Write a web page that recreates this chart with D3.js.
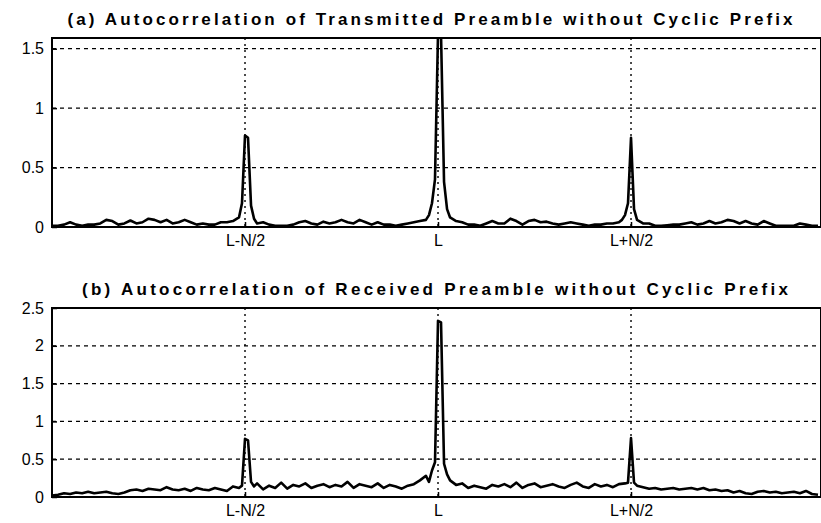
<!DOCTYPE html>
<html lang="en">
<head>
    <meta charset="UTF-8">
    <title>Autocorrelation of Preamble without Cyclic Prefix</title>
    <script src="https://d3js.org/d3.v7.min.js"></script>
    <style>
        body { margin: 0; background: #fff; }
        svg { display: block; }
        text { font-family: "Liberation Sans", Arial, sans-serif; fill: #000; }
        .title { font-weight: bold; font-size: 17px; }
        .tick text { font-size: 16px; }
    </style>
</head>
<body>
    <svg id="chart" width="821" height="523"></svg>

    <script>
        // x ticks: lag positions and their labels
        const tickLags = [64, 128, 192];
        const tickLabels = ["L-N/2", "L", "L+N/2"];
        const lagMax = 255;

        // (a) transmitted: sidelobe values every 2 lags (lag = 2*i)
        const noiseA = [
            0.01, 0.01, 0.02, 0.04, 0.02, 0.01, 0.02, 0.02, 0.03, 0.06, 0.05, 0.02, 0.03, 0.055, 0.03, 0.04,
            0.07, 0.06, 0.04, 0.06, 0.03, 0.04, 0.06, 0.04, 0.02, 0.03, 0.02, 0.02, 0.04, 0.04, 0.05, 0.08,
            0.2, 0.07, 0.03, 0.04, 0.02, 0.01, 0.01, 0.01, 0.02, 0.04, 0.05, 0.03, 0.02, 0.045, 0.03, 0.04,
            0.06, 0.04, 0.03, 0.06, 0.04, 0.02, 0.04, 0.02, 0.02, 0.01, 0.02, 0.03, 0.04, 0.05, 0.06, 0.2,
            0.4, 0.15, 0.05, 0.05, 0.04, 0.02, 0.02, 0.01, 0.03, 0.05, 0.03, 0.03, 0.07, 0.05, 0.02, 0.05,
            0.06, 0.04, 0.045, 0.03, 0.02, 0.03, 0.04, 0.03, 0.02, 0.01, 0.02, 0.02, 0.03, 0.03, 0.04, 0.1,
            0.2, 0.06, 0.03, 0.03, 0.01, 0.01, 0.015, 0.02, 0.02, 0.03, 0.04, 0.02, 0.03, 0.05, 0.03, 0.04,
            0.06, 0.05, 0.03, 0.05, 0.03, 0.02, 0.05, 0.03, 0.01, 0.01, 0.01, 0.01, 0.03, 0.02, 0.01, 0.01
        ];
        // (a) peaks: lags and values
        const peakLagsA = [62, 63, 64, 65, 66, 67, 125, 126, 127, 128, 129, 130, 131, 132, 189, 190, 191, 192, 193, 194];
        const peakValsA = [0.08, 0.2, 0.77, 0.75, 0.18, 0.07, 0.1, 0.2, 0.4, 1.62, 1.62, 0.38, 0.15, 0.08, 0.06, 0.1, 0.2, 0.75, 0.15, 0.06];

        // (b) received: values every 2 lags (lag = 2*i)
        const noiseB = [
            0.02, 0.03, 0.05, 0.04, 0.06, 0.05, 0.07, 0.05, 0.06, 0.07, 0.05, 0.04, 0.06, 0.09, 0.1, 0.08,
            0.11, 0.1, 0.09, 0.13, 0.1, 0.09, 0.11, 0.08, 0.12, 0.1, 0.09, 0.12, 0.1, 0.08, 0.14, 0.12,
            0.15, 0.14, 0.18, 0.1, 0.15, 0.12, 0.19, 0.11, 0.16, 0.14, 0.18, 0.12, 0.15, 0.17, 0.13, 0.16,
            0.14, 0.2, 0.12, 0.17, 0.15, 0.13, 0.18, 0.12, 0.16, 0.14, 0.11, 0.15, 0.17, 0.22, 0.28, 0.35,
            2.33, 0.3, 0.2, 0.16, 0.18, 0.12, 0.15, 0.13, 0.11, 0.16, 0.14, 0.17, 0.13, 0.19, 0.12, 0.16,
            0.18, 0.13, 0.15, 0.17, 0.14, 0.12, 0.16, 0.19, 0.14, 0.12, 0.17, 0.14, 0.16, 0.13, 0.17, 0.18,
            0.78, 0.15, 0.13, 0.11, 0.12, 0.1, 0.11, 0.12, 0.1, 0.11, 0.12, 0.1, 0.12, 0.09, 0.1, 0.08,
            0.09, 0.06, 0.08, 0.05, 0.04, 0.07, 0.08, 0.06, 0.07, 0.05, 0.06, 0.07, 0.05, 0.08, 0.04, 0.03
        ];
        const peakLagsB = [63, 64, 65, 66, 67, 125, 126, 127, 128, 129, 130, 131, 132, 191, 192, 193];
        const peakValsB = [0.15, 0.77, 0.75, 0.2, 0.14, 0.2, 0.35, 0.46, 2.33, 2.31, 0.44, 0.3, 0.22, 0.19, 0.78, 0.19];

        const panels = [
            { id: "a", title: "(a) Autocorrelation of Transmitted Preamble without Cyclic Prefix",
              titleX: 430, titleY: 25, titleLen: 725,
              top: 38, bottom: 227, ymax: 1.59, yTicks: [0, 0.5, 1, 1.5],
              noise: noiseA, peakLags: peakLagsA, peakVals: peakValsA },
            { id: "b", title: "(b) Autocorrelation of Received Preamble without Cyclic Prefix",
              titleX: 435, titleY: 295, titleLen: 706,
              top: 308, bottom: 497, ymax: 2.5, yTicks: [0, 0.5, 1, 1.5, 2, 2.5],
              noise: noiseB, peakLags: peakLagsB, peakVals: peakValsB }
        ];

        const svg = d3.select("#chart");
        const left = 52, right = 821;

        const x = d3.scaleLinear().domain([0, lagMax]).range([left, right]);

        panels.forEach(p => {
            const y = d3.scaleLinear().domain([0, p.ymax]).range([p.bottom, p.top]);

            // merge sidelobe samples with the peak samples
            const byLag = new Map();
            p.noise.forEach((v, i) => byLag.set(i * 2, v));
            p.peakLags.forEach((lag, i) => byLag.set(lag, p.peakVals[i]));
            const series = Array.from(byLag, ([lag, v]) => ({ lag, v })).sort((a, b) => a.lag - b.lag);

            svg.append("clipPath").attr("id", "clip-" + p.id)
                .append("rect")
                .attr("x", left).attr("y", p.top)
                .attr("width", right - left).attr("height", p.bottom - p.top);

            // horizontal dashed grid
            svg.append("g")
                .selectAll("line")
                .data(p.yTicks.filter(t => t > 0 && t < p.ymax))
                .enter().append("line")
                .attr("x1", left).attr("x2", right)
                .attr("y1", d => y(d)).attr("y2", d => y(d))
                .attr("stroke", "#000")
                .attr("stroke-width", 1.3)
                .attr("stroke-dasharray", "4,4");

            // vertical dotted grid
            svg.append("g")
                .selectAll("line")
                .data(tickLags)
                .enter().append("line")
                .attr("x1", d => x(d)).attr("x2", d => x(d))
                .attr("y1", p.top).attr("y2", p.bottom)
                .attr("stroke", "#000")
                .attr("stroke-width", 1.4)
                .attr("stroke-dasharray", "2,4");

            // the autocorrelation curve
            const line = d3.line().x(d => x(d.lag)).y(d => y(d.v));
            svg.append("path")
                .datum(series)
                .attr("clip-path", "url(#clip-" + p.id + ")")
                .attr("fill", "none")
                .attr("stroke", "#000")
                .attr("stroke-width", 2.6)
                .attr("stroke-linejoin", "round")
                .attr("d", line);

            // axes
            const yAxis = svg.append("g")
                .attr("transform", "translate(" + left + ",0)")
                .call(d3.axisLeft(y).tickValues(p.yTicks).tickFormat(d3.format("")).tickSize(-5).tickPadding(8));
            yAxis.select(".domain").remove();

            const xAxis = svg.append("g")
                .attr("transform", "translate(0," + p.bottom + ")")
                .call(d3.axisBottom(x).tickValues(tickLags).tickFormat((d, i) => tickLabels[i]).tickSize(-5).tickPadding(8));
            xAxis.select(".domain").remove();
            svg.selectAll(".tick line").attr("stroke", "#000").attr("stroke-width", 1.5);

            // box
            svg.append("rect")
                .attr("x", left).attr("y", p.top)
                .attr("width", right - left).attr("height", p.bottom - p.top)
                .attr("fill", "none")
                .attr("stroke", "#000")
                .attr("stroke-width", 2);

            svg.append("text")
                .attr("class", "title")
                .attr("x", p.titleX)
                .attr("y", p.titleY)
                .attr("text-anchor", "middle")
                .attr("textLength", p.titleLen)
                .attr("lengthAdjust", "spacing")
                .text(p.title);
        });
    </script>
</body>
</html>
